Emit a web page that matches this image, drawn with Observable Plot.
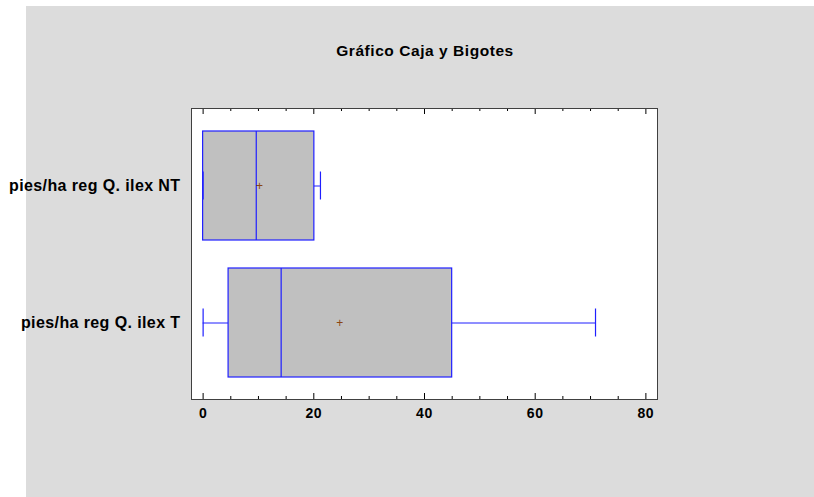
<!DOCTYPE html>
<html>
<head>
<meta charset="utf-8">
<script src="https://cdn.jsdelivr.net/npm/d3@7"></script>
<script src="https://cdn.jsdelivr.net/npm/@observablehq/plot@0.6"></script>
<style>
  html, body { margin: 0; padding: 0; background: white; }
  #wrap { position: relative; width: 814px; height: 497px; background: white; overflow: hidden; font-family: "Liberation Sans", Arial, sans-serif; }
  #panel { position: absolute; left: 26px; top: 6px; right: 0; bottom: 0; background: #dcdcdc; }
  #title { position: absolute; left: 0; width: 850px; top: 43px; line-height: 16px; text-align: center; font-weight: bold; font-size: 15.5px; letter-spacing: 0.55px; color: #000; }
  #chart { position: absolute; left: 0; top: 0; }
  #chart svg { background: transparent !important; }
  #chart svg g[aria-label="y-axis tick label"] text { letter-spacing: 0.4px; }
  #chart svg g[aria-label="x-axis tick label"] text { letter-spacing: 0.6px; }
</style>
</head>
<body>
<div id="wrap">
  <div id="panel"></div>
  <div id="title">Gráfico Caja y Bigotes</div>
  <div id="chart"></div>
</div>
<script>
// ---- data ----
const categories = ["pies/ha reg Q. ilex NT", "pies/ha reg Q. ilex T"];
const whiskerLow = [0, 0];
const q1 = [0, 4.6];
const median = [9.6, 14.1];
const q3 = [20.1, 45.0];
const whiskerHigh = [21.2, 70.9];
const means = [10.2, 24.7];
const majorTicks = [0, 20, 40, 60, 80];
const minorTicks = [5, 10, 15, 25, 30, 35, 45, 50, 55, 65, 70, 75];

const rows = categories.map((c, i) => ({
  name: c, lo: whiskerLow[i], q1: q1[i], med: median[i], q3: q3[i], hi: whiskerHigh[i], mean: means[i]
}));

const W = 814, H = 497;
const mL = 191, mR = 157, mT = 108, mB = 98;
const plotH = H - mT - mB;
const boxStroke = "#1f1fff";

const chart = Plot.plot({
  width: W,
  height: H,
  marginLeft: mL,
  marginRight: mR,
  marginTop: mT,
  marginBottom: mB,
  style: { background: "transparent", fontFamily: "'Liberation Sans', Arial, sans-serif" },
  x: { domain: [-2.1, 82.1] },
  y: { domain: categories, paddingInner: 0.205, paddingOuter: 0.16 },
  marks: [
    Plot.frame({ fill: "white" }),
    // ticks inside frame (bottom & top)
    Plot.tickX(majorTicks, { x: d => d, stroke: "black", insetTop: plotH - 6 }),
    Plot.tickX(minorTicks, { x: d => d, stroke: "black", insetTop: plotH - 3 }),
    Plot.tickX(majorTicks, { x: d => d, stroke: "black", insetBottom: plotH - 6 }),
    Plot.tickX(minorTicks, { x: d => d, stroke: "black", insetBottom: plotH - 3 }),
    // whiskers
    Plot.ruleY(rows, { y: "name", x1: "lo", x2: "q1", stroke: boxStroke, strokeWidth: 1 }),
    Plot.ruleY(rows, { y: "name", x1: "q3", x2: "hi", stroke: boxStroke, strokeWidth: 1 }),
    // boxes
    Plot.barX(rows, { y: "name", x1: "q1", x2: "q3", fill: "#c0c0c0", stroke: boxStroke, strokeWidth: 1.2 }),
    // medians
    Plot.tickX(rows, { y: "name", x: "med", stroke: boxStroke, strokeWidth: 1.2 }),
    // caps
    Plot.tickX(rows, { y: "name", x: "lo", stroke: boxStroke, strokeWidth: 1.2, insetTop: 40.5, insetBottom: 40.5 }),
    Plot.tickX(rows, { y: "name", x: "hi", stroke: boxStroke, strokeWidth: 1.2, insetTop: 40.5, insetBottom: 40.5 }),
    // means
    Plot.text(rows, { y: "name", x: "mean", text: () => "+", fill: "#8b4513", fontSize: 12, fontWeight: "normal" }),
    Plot.frame({ stroke: "#404040", strokeWidth: 1 }),
    // axes
    Plot.axisX({ anchor: "bottom", ticks: majorTicks, tickSize: 0, tickPadding: 9, fontSize: 14, fontWeight: "bold", fill: "#000", label: null }),
    Plot.axisY({ anchor: "left", tickSize: 0, tickPadding: 11, fontSize: 16, fontWeight: "bold", fill: "#000", label: null })
  ]
});
document.getElementById("chart").appendChild(chart);
</script>
</body>
</html>
